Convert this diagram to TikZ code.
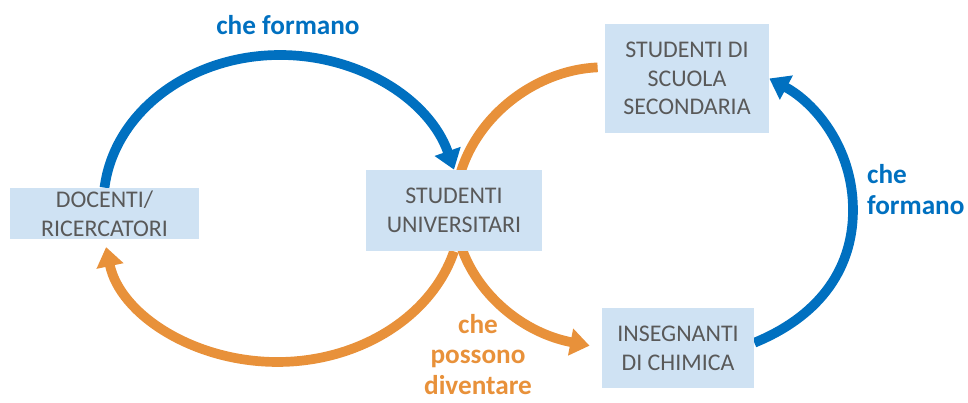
\documentclass[tikz,border=0pt]{standalone}
\usepackage{fontspec}
\setmainfont{Carlito}
\usetikzlibrary{arrows.meta,backgrounds}

\definecolor{arcblue}{HTML}{0070C0}
\definecolor{arcorange}{HTML}{E8913A}
\definecolor{boxfill}{HTML}{CFE2F3}
\definecolor{boxtext}{HTML}{595959}

\begin{document}
\begin{tikzpicture}[
  box/.style={fill=boxfill, text=boxtext, inner sep=0pt, align=center,
    font=\fontsize{13.6}{16.4}\selectfont},
  bluearc/.style={draw=arcblue, line width=5.5pt,
    -{Triangle[length=11pt,width=15pt]}},
  orangearc/.style={draw=arcorange, line width=5.5pt,
    -{Triangle[length=11pt,width=15pt]}},
  label/.style={inner sep=1pt, font=\fontsize{15.5}{17.6}\selectfont\bfseries}
]
\useasboundingbox (0,0) rectangle (19.36,8.06);

% boxes
\node[box, minimum width=3.78cm, minimum height=1.02cm] (doc) at (2.09,3.79) {DOCENTI/\\RICERCATORI};
\node[box, minimum width=3.52cm, minimum height=1.62cm] (univ) at (9.08,3.85) {STUDENTI\\UNIVERSITARI};
\node[box, minimum width=3.28cm, minimum height=2.18cm] (sec) at (13.74,6.49) {STUDENTI DI\\SCUOLA\\SECONDARIA};
\node[box, minimum width=3.04cm, minimum height=1.60cm] (ins) at (13.56,1.10) {INSEGNANTI\\DI CHIMICA};

% labels
\node[label, text=arcblue] (formtop) at (5.76,7.56) {che formano};
\node[label, text=arcblue, anchor=west, align=left] (formright) at (17.3,4.26) {che\\formano};
\node[label, text=arcorange, align=center] (diventare) at (9.56,0.97) {che\\possono\\diventare};

\begin{pgfonlayer}{background}
% left loop
\draw[bluearc] (doc.north) .. controls (2.29,5.84) and (3.82,6.96) .. (5.6,6.96)
  .. controls (7.19,6.96) and (8.59,6.07) .. (univ.north);
\draw[orangearc, shorten >=4.5pt] (univ.south) .. controls (8.64,1.74) and (7.2,0.82) .. (5.55,0.82)
  .. controls (3.86,0.82) and (2.4,1.78) .. (doc.south);

% right loop
\draw[orangearc, shorten <=4pt, shorten >=7pt] ([yshift=6.5pt]sec.west) .. controls (10.5,6.65) and (9.1,5.4) .. (9.1,3.86)
  .. controls (9.1,2.6) and (10.2,1.45) .. (ins.west);
\draw[bluearc] ([yshift=3pt]ins.east) .. controls (16.3,1.7) and (17.06,2.6) .. (17.06,3.86)
  .. controls (17.06,5.1) and (16.3,6.0) .. (sec.east);
\end{pgfonlayer}

\end{tikzpicture}
\end{document}
